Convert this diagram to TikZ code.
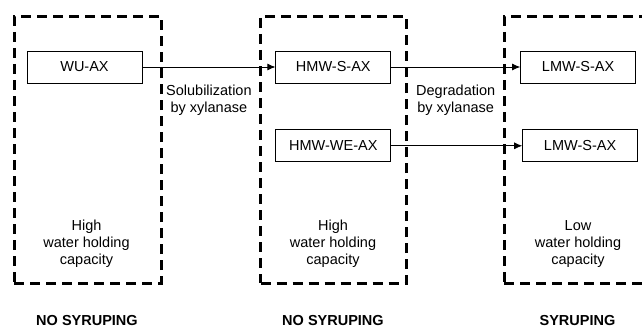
\documentclass[tikz,border=0pt]{standalone}
\usepackage{fontspec}
\setmainfont{Liberation Sans}
\usetikzlibrary{arrows.meta,positioning}

\begin{document}
\begin{tikzpicture}[x=1pt, y=-1pt, >={Latex[length=8pt,width=7pt]}, node distance=1cm, font=\fontsize{14.5}{17}\selectfont] % Styles
\tikzstyle{zone}=[draw, line width=3pt, dash pattern=on 10pt off 6pt, minimum height=266.5pt, inner sep=0pt]
\tikzstyle{pool}=[draw, line width=0.8pt, minimum width=115pt, minimum height=32pt, inner sep=0pt]
\tikzstyle{prop}=[align=center, inner sep=0pt]
\tikzstyle{verdict}=[anchor=base, inner sep=0pt, font=\fontsize{14.5}{17}\selectfont\bfseries] % Frame
\useasboundingbox (0,0) rectangle (642,329);
% Zones
\node[zone, minimum width=147pt] (zoneA) at (87.5,149.75) {};
\node[zone, minimum width=146pt] (zoneB) at (333.6,149.75) {};
\node[zone, minimum width=147pt] (zoneC) at (577.5,149.75) {};
% Pools
\node[pool] (wuax) at (84.5,67) {WU-AX};
\node[pool, right=133pt of wuax] (hmws) {HMW-S-AX};
\node[pool, below=46pt of hmws] (hmwwe) {HMW-WE-AX};
\node[pool, right=129pt of hmws] (lmws) {LMW-S-AX};
\node[pool, right=131pt of hmwwe] (lmwwe) {LMW-S-AX};
% Connections
\draw[->, line width=0.8pt] (wuax) -- node[prop, below=18pt]{Solubilization\\by xylanase} (hmws);
\draw[->, line width=0.8pt] (hmws) -- node[prop, below=18pt]{Degradation\\by xylanase} (lmws);
\draw[->, line width=0.8pt] (hmwwe) -- (lmwwe);
% Additional labels
\node[prop] (capA) at (86.5,244) {High\\water holding\\capacity};
\node[prop] (capB) at (333,244) {High\\water holding\\capacity};
\node[prop] (capC) at (578,244) {Low\\water holding\\capacity};
\node[verdict] (verdA) at (87,325.5) {NO SYRUPING};
\node[verdict] (verdB) at (333,325.5) {NO SYRUPING};
\node[verdict] (verdC) at (577.5,325.5) {SYRUPING};
\end{tikzpicture}
\end{document}
